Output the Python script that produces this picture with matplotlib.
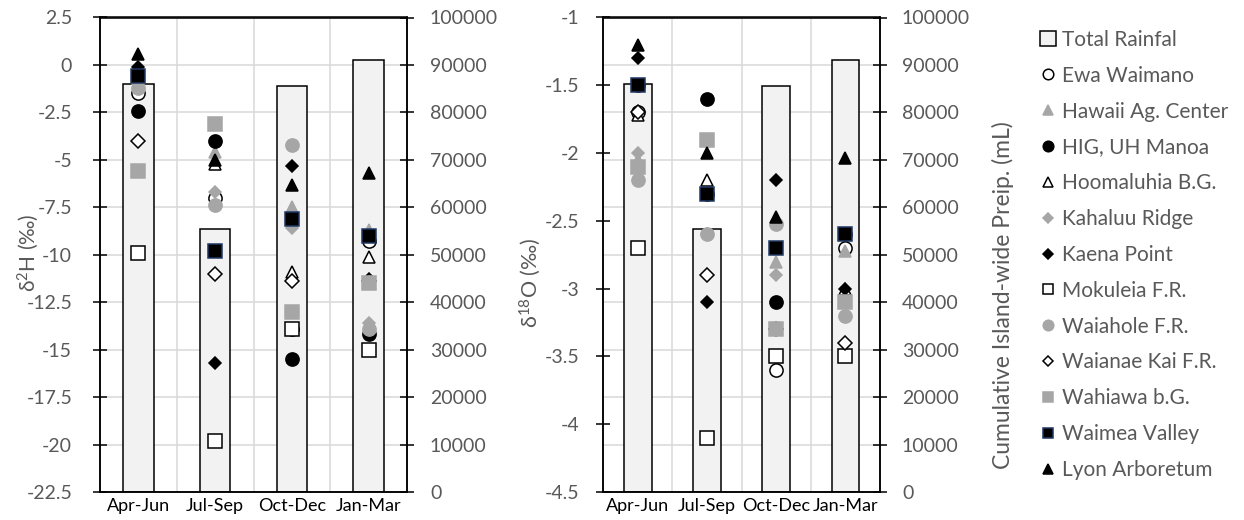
import matplotlib
matplotlib.use('Agg')
import matplotlib.pyplot as plt
from matplotlib.ticker import MultipleLocator, FixedLocator, FuncFormatter
import numpy as np

plt.rcParams['font.family'] = ['Lato', 'DejaVu Sans']
plt.rcParams['mathtext.default'] = 'regular'

# ---------------- data ----------------
categories = ['Apr-Jun', 'Jul-Sep', 'Oct-Dec', 'Jan-Mar']
total_rainfall = [86000, 55500, 85600, 91000]

stations = ['Ewa Waimano', 'Hawaii Ag. Center', 'HIG, UH Manoa', 'Hoomaluhia B.G.',
            'Kahaluu Ridge', 'Kaena Point', 'Mokuleia F.R.', 'Waiahole F.R.',
            'Waianae Kai F.R.', 'Wahiawa b.G.', 'Waimea Valley', 'Lyon Arboretum']

# delta 2H (per mil)
ewa_h = [-1.5, -7.0, -13.9, -9.3]
hawaii_ag_h = [-0.3, -4.6, -7.5, -8.7]
hig_h = [-2.4, -4.0, -15.5, -14.2]
hoomaluhia_h = [-0.3, -5.2, -10.9, -10.1]
kahaluu_h = [-1.0, -6.7, -8.6, -13.6]
kaena_h = [-0.1, -15.7, -5.3, -11.3]
mokuleia_h = [-9.9, -19.8, -13.9, -15.0]
waiahole_h = [-1.2, -7.4, -4.2, -13.9]
waianae_h = [-4.0, -11.0, -11.4, -11.4]
wahiawa_h = [-5.6, -3.1, -13.0, -11.5]
waimea_h = [-0.6, -9.8, -8.1, -9.0]
lyon_h = [0.6, -5.0, -6.3, -5.7]

# delta 18O (per mil)
ewa_o = [-1.7, -2.3, -3.6, -2.7]
hawaii_ag_o = [-2.05, -1.9, -2.8, -2.72]
hig_o = [-1.5, -1.6, -3.1, -2.6]
hoomaluhia_o = [-1.72, -2.2, -3.3, -3.0]
kahaluu_o = [-2.0, -2.6, -2.9, -3.4]
kaena_o = [-1.3, -3.1, -2.2, -3.0]
mokuleia_o = [-2.7, -4.1, -3.5, -3.5]
waiahole_o = [-2.2, -2.6, -2.52, -3.2]
waianae_o = [-1.7, -2.9, -3.3, -3.4]
wahiawa_o = [-2.1, -1.9, -3.3, -3.1]
waimea_o = [-1.5, -2.3, -2.7, -2.6]
lyon_o = [-1.2, -2.0, -2.47, -2.04]

h_series = [ewa_h, hawaii_ag_h, hig_h, hoomaluhia_h, kahaluu_h, kaena_h,
            mokuleia_h, waiahole_h, waianae_h, wahiawa_h, waimea_h, lyon_h]
o_series = [ewa_o, hawaii_ag_o, hig_o, hoomaluhia_o, kahaluu_o, kaena_o,
            mokuleia_o, waiahole_o, waianae_o, wahiawa_o, waimea_o, lyon_o]

# ---------------- styles ----------------
GREY = '#a6a6a6'
styles = [
    dict(marker='o', mfc='white', mec='black', ms=9.5),
    dict(marker='^', mfc=GREY, mec=GREY, ms=8.5),
    dict(marker='o', mfc='black', mec='black', ms=9.5),
    dict(marker='^', mfc='white', mec='black', ms=9),
    dict(marker='D', mfc=GREY, mec=GREY, ms=6),
    dict(marker='D', mfc='black', mec='black', ms=6.5),
    dict(marker='s', mfc='white', mec='black', ms=9.5),
    dict(marker='o', mfc=GREY, mec=GREY, ms=9.5),
    dict(marker='D', mfc='white', mec='black', ms=7),
    dict(marker='s', mfc=GREY, mec=GREY, ms=9.5),
    dict(marker='s', mfc='black', mec='#203864', ms=9.5),
    dict(marker='^', mfc='black', mec='black', ms=9),
]

W, H = 1244, 520
fig = plt.figure(figsize=(W / 100, H / 100), dpi=100)
GRID = '#d9d9d9'
TICKC = '#595959'
FS = 14
XFS = 13


def gfmt(v, pos):
    return ('%g' % v).replace('\u2212', '-')


def panel(x0, x1, series, ylim, ystep, lpad, rpad):
    ax = fig.add_axes([x0 / W, 1 - 492 / H, (x1 - x0) / W, (492 - 17.5) / H])
    x = np.arange(len(categories))
    bars = ax.bar(x, total_rainfall, width=0.4, color='#f2f2f2', edgecolor='black',
                  linewidth=1.1, zorder=2, label='Total Rainfal')
    ax.set_xlim(-0.5, len(categories) - 0.5)
    ax.set_ylim(0, 100000)
    ax.yaxis.set_major_locator(MultipleLocator(10000))
    ax.yaxis.set_major_formatter(FuncFormatter(lambda v, p: '%d' % v))
    ax.xaxis.set_major_locator(FixedLocator(x))
    ax.xaxis.set_minor_locator(FixedLocator(x[:-1] + 0.5))
    ax.set_xticklabels(categories)
    ax.set_axisbelow(True)
    ax.grid(True, axis='y', which='major', color=GRID, lw=1.1)
    ax.grid(True, axis='x', which='minor', color=GRID, lw=1.1)

    ax2 = ax.twinx()
    ax.yaxis.tick_right()
    ax2.yaxis.tick_left()
    ax2.yaxis.set_label_position('left')
    ax.tick_params(axis='y', direction='inout', length=10, width=1.1, color='black',
                   labelcolor=TICKC, labelsize=FS, pad=rpad)
    ax.tick_params(axis='x', which='both', length=0, labelsize=XFS, labelcolor='black', pad=4)
    ax2.set_ylim(*ylim)
    ax2.yaxis.set_major_locator(MultipleLocator(ystep))
    ax2.yaxis.set_major_formatter(FuncFormatter(gfmt))
    ax2.tick_params(axis='y', direction='inout', length=10, width=1.1, color='black',
                    labelcolor=TICKC, labelsize=FS, pad=lpad)
    handles = [bars]
    for name, vals, st in zip(stations, series, styles):
        ln, = ax2.plot(x, vals, linestyle='none', mew=1.1, label=name, zorder=3, **st)
        handles.append(ln)
    for a in (ax, ax2):
        for s in a.spines.values():
            s.set_linewidth(1.1)
            s.set_color('black')
    return ax, ax2, handles


axL, axL2, _ = panel(100, 407, h_series, (-22.5, 2.5), 2.5, 15, 11.5)
axR, axR2, handles = panel(603.3, 880, o_series, (-4.5, -1.0), 0.5, 12, 10.8)

fig.text(28 / W, 1 - 253 / H, '\u03b4$^{2}$H (\u2030)', rotation=90, ha='center', va='center',
         fontsize=15, color=TICKC)
fig.text(530 / W, 1 - 283 / H, '\u03b4$^{18}$O (\u2030)', rotation=90, ha='center', va='center',
         fontsize=15.5, color=TICKC)
fig.text(1003 / W, 1 - 295 / H, 'Cumulative Island-wide Preip. (mL)', rotation=90,
         ha='center', va='center', fontsize=16.5, color=TICKC)

leg = fig.legend(handles=handles, labels=['Total Rainfal'] + stations, loc='upper left',
                 bbox_to_anchor=(1040 / W, 1 - 30 / H), frameon=False, fontsize=15,
                 handlelength=0.75, handleheight=0.75, handletextpad=0.3, labelspacing=0.76,
                 borderpad=0, borderaxespad=0, markerscale=0.8)
for t in leg.get_texts():
    t.set_color(TICKC)

fig.savefig('out.png', dpi=100)
